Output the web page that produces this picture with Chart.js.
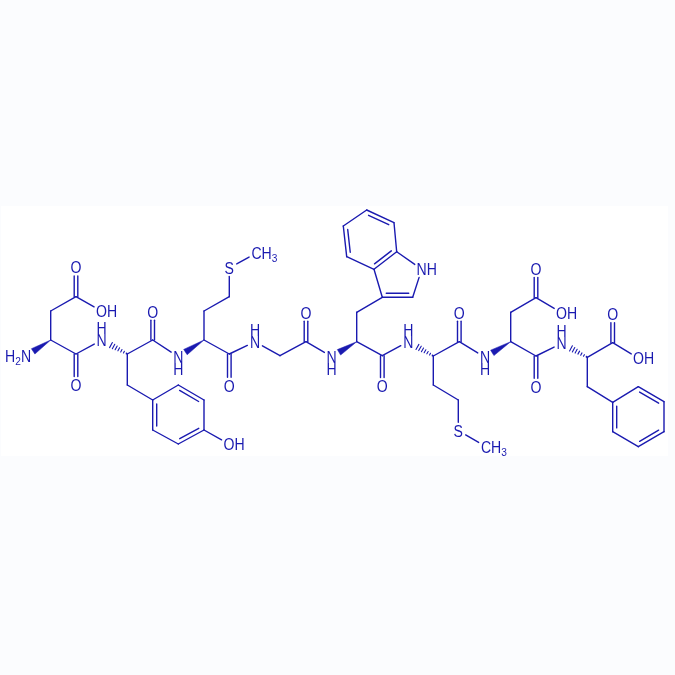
<!DOCTYPE html>
<html>
<head>
<meta charset="utf-8">
<script src="https://cdn.jsdelivr.net/npm/chart.js@4/dist/chart.umd.js"></script>
<style>
  html, body { margin: 0; padding: 0; background: #fbfcfe; }
  canvas { display: block; }
</style>
</head>
<body>
<canvas id="chart" width="675" height="675"></canvas>
<script>
// atom positions, index = atom number
const atomX = [26,50.7,50.7,76,76,101.5,76,76,101.7,127.3,127.3,152.7,178.3,204,204,178.3,152.7,229,152.7,152.7,
  178.3,204,204,229.3,229.3,256.5,229.3,229.3,255,280,306,306,331.7,356.7,356.7,382.3,412.7,421.7,396.7,374,
  346.7,343.3,366.7,394,382.3,382.3,408.3,433.3,433.3,458.3,458.3,486,459.3,459.3,485,510.7,510.7,536,536,561.5,
  536,536,561.7,587.3,587.3,612.7,638.3,664,664,638.3,612.7,612.7,612.7,638.5];
const atomY = [356,340,311,296.7,267.5,311,354,385,340,354,385,400,385,400,430,444,430,444,340,311.7,
  356.7,340,311,296.7,268,253,354,385.7,341.7,355.7,341.7,312.7,356.7,341.7,312.3,297.3,297.3,269.3,251.7,269.3,
  256.7,226,210,222.7,355.7,386,341.7,356,385,400,430.7,446.7,341.7,312.7,357.3,341.7,312.3,297.7,269,312.7,
  356,386.7,343.3,357.3,386.7,402.3,386.7,401.7,431.7,446.7,431.7,342.7,314.3,358.3];

// single bonds
const singleBonds = [[1,2],[2,3],[3,5],[1,6],[6,8],[9,10],[10,11],[11,12],[13,14],[14,17],[15,16],[9,18],[18,20],
  [21,22],[22,23],[23,24],[24,25],[21,26],[26,28],[28,29],[29,30],[30,32],[33,34],[34,35],[35,39],[36,37],[37,38],
  [39,40],[41,42],[43,38],[33,44],[44,46],[47,48],[48,49],[49,50],[50,51],[47,52],[52,54],[55,56],[56,57],[57,59],
  [55,60],[60,62],[63,64],[64,65],[65,66],[67,68],[69,70],[63,71],[71,73]];
// C=O bonds, two lines either side of the axis
const carbonylBonds = [[3,4],[6,7],[18,19],[26,27],[30,31],[44,45],[52,53],[57,58],[60,61],[71,72]];
// ring double bonds: from, to, an atom on the ring side
const ringDoubles = [[11,16,13],[12,13,15],[14,15,12],[35,36,38],[38,39,41],[40,41,43],[42,43,40],
  [65,70,67],[66,67,69],[68,69,66]];
// stereo bonds: narrow end, wide end
const wedgeBonds = [[1,0],[21,20],[33,32],[55,54]];
const hashBonds = [[9,8],[47,46],[63,62]];

// labels: text, anchor atom, how the anchor letter sits in the text
const labelText = ['H2N','O','OH','O','N','H','OH','O','N','H','S','CH3','O','N','H','O','N','H','NH','O','N','H','S','CH3','O','N','H','O','OH','O','N','H','O','OH'];
const labelAtom = [0,4,5,7,8,8,17,19,20,20,24,25,27,28,28,31,32,32,37,45,46,46,50,51,53,54,54,58,59,61,62,62,72,73];
const labelShift = [0,0,0,0,0,-12,0,0,0,12,0,0,0,0,-12,0,0,12,0,0,0,-12,0,0,0,0,12,0,0,0,0,-12,0,0];

const blue = '#1a1ab0';
const labelled = new Set(labelAtom);
const trim = 8.5;
const squeeze = 0.88; // the letters in the picture are a bit narrow

function segment(a, b) {
  // shorten a bond where it runs into an atom letter
  const dx = atomX[b] - atomX[a], dy = atomY[b] - atomY[a];
  const len = Math.hypot(dx, dy);
  const ta = labelled.has(a) ? trim / len : 0;
  const tb = labelled.has(b) ? trim / len : 0;
  return [
    { x: atomX[a] + dx * ta, y: atomY[a] + dy * ta },
    { x: atomX[b] - dx * tb, y: atomY[b] - dy * tb }
  ];
}

function lineSet(points, width) {
  return { data: points, showLine: true, borderColor: blue, borderWidth: width || 1.4, pointRadius: 0, borderCapStyle: 'round', borderJoinStyle: 'round', clip: false };
}

const datasets = [];
singleBonds.forEach(b => datasets.push(lineSet(segment(b[0], b[1]))));

carbonylBonds.forEach(b => {
  const s = segment(b[0], b[1]);
  [-1.8, 1.8].forEach(o => datasets.push(lineSet(s.map(p => ({ x: p.x + o, y: p.y })))));
});

ringDoubles.forEach(b => {
  const s = segment(b[0], b[1]);
  datasets.push(lineSet(s));
  const dx = s[1].x - s[0].x, dy = s[1].y - s[0].y, len = Math.hypot(dx, dy);
  let nx = -dy / len, ny = dx / len;
  if ((atomX[b[2]] - s[0].x) * nx + (atomY[b[2]] - s[0].y) * ny < 0) { nx = -nx; ny = -ny; }
  const off = 4, inset = 0.13;
  datasets.push(lineSet([
    { x: s[0].x + dx * inset + nx * off, y: s[0].y + dy * inset + ny * off },
    { x: s[1].x - dx * inset + nx * off, y: s[1].y - dy * inset + ny * off }
  ]));
});

wedgeBonds.forEach(b => {
  const s = segment(b[0], b[1]);
  const dx = s[1].x - s[0].x, dy = s[1].y - s[0].y, len = Math.hypot(dx, dy);
  const nx = -dy / len * 3.2, ny = dx / len * 3.2;
  datasets.push({
    data: [s[0], { x: s[1].x + nx, y: s[1].y + ny }, { x: s[1].x - nx, y: s[1].y - ny }, s[0]],
    showLine: true, fill: 'shape', backgroundColor: blue, borderColor: blue, borderWidth: 0.5, pointRadius: 0, clip: false
  });
});

hashBonds.forEach(b => {
  const s = segment(b[0], b[1]);
  const dx = s[1].x - s[0].x, dy = s[1].y - s[0].y, len = Math.hypot(dx, dy);
  const stripes = 7;
  for (let i = 0; i < stripes; i++) {
    const t = (i + 0.3) / stripes;
    const hw = 0.4 + 2.8 * t;
    const nx = -dy / len * hw, ny = dx / len * hw;
    const cx = s[0].x + dx * t, cy = s[0].y + dy * t;
    datasets.push(lineSet([{ x: cx + nx, y: cy + ny }, { x: cx - nx, y: cy - ny }], 1.1));
  }
});

const sheetPlugin = {
  id: 'sheet',
  beforeDraw(chart) {
    const { ctx, scales: { x, y } } = chart;
    ctx.save();
    ctx.fillStyle = '#fbfcfe';
    ctx.fillRect(0, 0, chart.width, chart.height);
    ctx.fillStyle = '#ffffff';
    ctx.fillRect(x.getPixelForValue(1), y.getPixelForValue(206), x.getPixelForValue(668) - x.getPixelForValue(1), y.getPixelForValue(456) - y.getPixelForValue(206));
    ctx.restore();
  }
};

const labelPlugin = {
  id: 'atomLabels',
  afterDraw(chart) {
    const { ctx, scales: { x, y } } = chart;
    const big = '16px "Liberation Sans"', small = '11.5px "Liberation Sans"';
    ctx.save();
    ctx.fillStyle = blue;
    ctx.textBaseline = 'alphabetic';
    ctx.textAlign = 'left';
    labelText.forEach((text, i) => {
      const px = x.getPixelForValue(atomX[labelAtom[i]]);
      const py = y.getPixelForValue(atomY[labelAtom[i]]) + labelShift[i] + 5.8;
      const chars = text.split('');
      const widthOf = c => { ctx.font = /\d/.test(c) ? small : big; return ctx.measureText(c).width * squeeze; };
      // the letter bonded to the atom sits on the atom: last one for H2N, first otherwise
      const anchor = text === 'H2N' ? 2 : 0;
      let cur = px - widthOf(chars[anchor]) / 2;
      for (let k = 0; k < anchor; k++) cur -= widthOf(chars[k]);
      chars.forEach(c => {
        const sub = /\d/.test(c);
        const w = widthOf(c);
        ctx.fillText(c, cur, sub ? py + 3 : py, w);
        cur += w;
      });
    });
    ctx.restore();
  }
};

new Chart(document.getElementById('chart').getContext('2d'), {
  type: 'scatter',
  data: { datasets },
  options: {
    responsive: false,
    animation: false,
    layout: { padding: 0 },
    plugins: { legend: { display: false }, tooltip: { enabled: false } },
    scales: {
      x: { type: 'linear', min: 0, max: 675, display: false },
      y: { type: 'linear', min: 0, max: 675, reverse: true, display: false }
    }
  },
  plugins: [sheetPlugin, labelPlugin]
});
</script>
</body>
</html>
